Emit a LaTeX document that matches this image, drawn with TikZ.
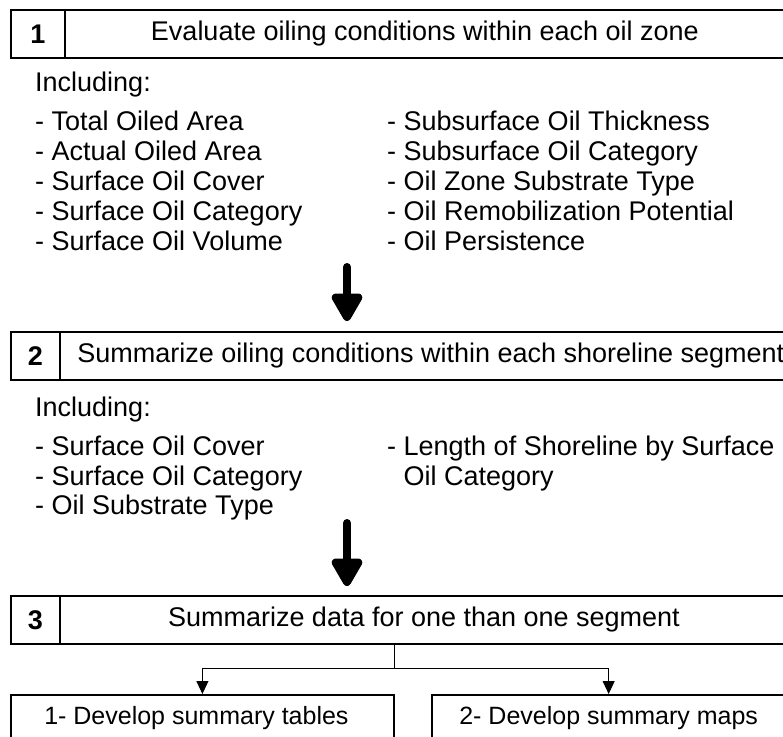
\documentclass[tikz,border=0pt]{standalone}
\usepackage{fontspec}
\setmainfont{Liberation Sans}
\usetikzlibrary{arrows.meta}
\begin{document}
\begin{tikzpicture}[x=1pt,y=-1pt,
  frame/.style={draw, line width=1.8pt, inner sep=0pt, anchor=north west},
  numcell/.style={frame, font=\fontsize{27}{27}\selectfont\bfseries},
  headcell/.style={frame, font=\fontsize{27}{27}\selectfont},
  subbox/.style={frame, font=\fontsize{25}{25}\selectfont},
  listtext/.style={anchor=base west, inner sep=0pt, font=\fontsize{27}{30}\selectfont},
  bigarrow/.style={line width=8pt, line cap=round, -{Triangle[width=34pt,length=32pt,round]}},
  thinline/.style={line width=1pt},
  smalltip/.style={-{Triangle[width=12pt,length=13pt]}}
]
\useasboundingbox (0,0) rectangle (783,736);
\clip (0,0) rectangle (783,736);

% step 1
\node[numcell, minimum width=54pt, minimum height=48pt] (n1) at (10,9) {1};
\node[headcell, minimum width=720pt, minimum height=48pt] (h1) at (64,9)
  {Evaluate oiling conditions within each oil zone};
\node[listtext] (inc1) at (35,91) {Including:};
\foreach \t [count=\i] in {Total Oiled Area, Actual Oiled Area, Surface Oil Cover,
    Surface Oil Category, Surface Oil Volume}
  \node[listtext] (pa\i) at (35,100+30*\i) {- \t};
\foreach \t [count=\i] in {Subsurface Oil Thickness, Subsurface Oil Category,
    Oil Zone Substrate Type, Oil Remobilization Potential, Oil Persistence}
  \node[listtext] (pb\i) at (387,100+30*\i) {- \t};

% step 2
\node[numcell, minimum width=49pt, minimum height=48pt] (n2) at (10,331) {2};
\node[headcell, minimum width=742pt, minimum height=48pt] (h2) at (59,331)
  {Summarize oiling conditions within each shoreline segment};
\node[listtext] (inc2) at (35,416) {Including:};
\foreach \t [count=\i] in {Surface Oil Cover, Surface Oil Category, Oil Substrate Type}
  \node[listtext] (qa\i) at (35,426+29.5*\i) {- \t};
\node[listtext] (qb1) at (387,455.5) {- Length of Shoreline by Surface};
\node[listtext] (qb2) at (387,485) {\phantom{- }Oil Category};

% step 3
\node[numcell, minimum width=49pt, minimum height=48pt] (n3) at (10,595) {3};
\node[headcell, minimum width=728pt, minimum height=48pt] (h3) at (59,595)
  {Summarize data for one than one segment};

\node[subbox, minimum width=383pt, minimum height=46pt] (b1) at (10,694)
  {1- Develop summary tables\hspace*{12pt}};
\node[subbox, minimum width=353.5pt, minimum height=46pt] (b2) at (431,694)
  {2- Develop summary maps};

% big arrows between steps
\coordinate (a1) at (347,267);
\coordinate (a2) at (347,523);
\draw[bigarrow, shorten >=10pt] (a1) -- (a1 |- h2.north);
\draw[bigarrow, shorten >=9pt] (a2) -- (a2 |- h3.north);

% split connector
\coordinate (j) at (394,668);
\draw[thinline] (h3.south -| j) -- (j);
\draw[thinline, smalltip] (j) -| (b1.north);
\draw[thinline, smalltip] (j) -| (b2.north);
\end{tikzpicture}
\end{document}
